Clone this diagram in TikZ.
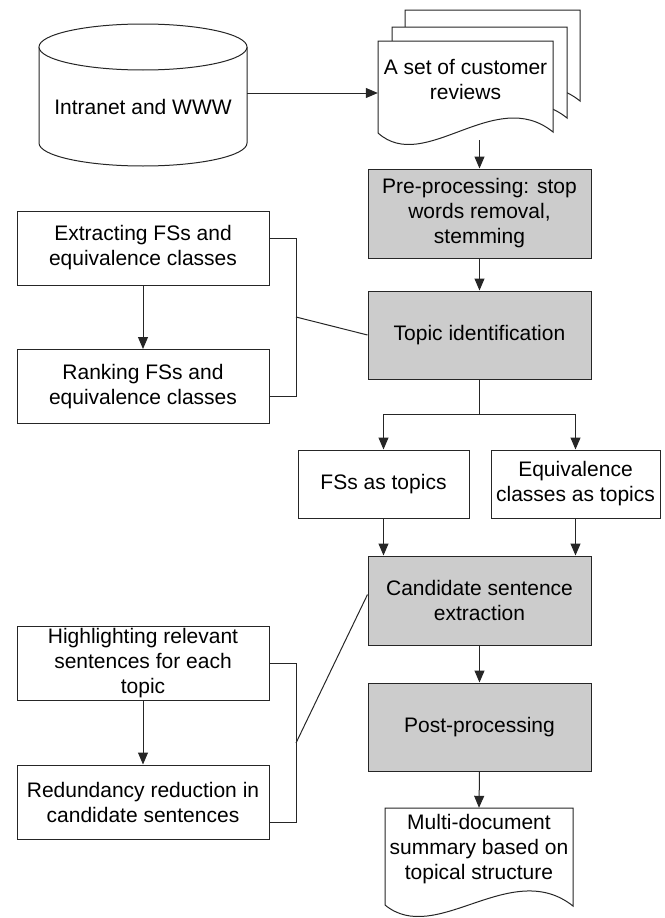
\documentclass[tikz,border=0pt]{standalone}
\usepackage{fontspec}
\setmainfont{Liberation Sans}
\usetikzlibrary{arrows.meta}
\begin{document}
\begin{tikzpicture}[x=1pt,y=-1pt,
  every node/.style={font=\fontsize{21}{25}\selectfont, align=center, inner sep=0pt},
  link/.style={draw=black!85, line width=1pt},
  arr/.style={link, -{Triangle[length=12pt,width=10pt]}},
  box/.style={link, fill=white, minimum width=252pt, minimum height=74pt},
  proc/.style={link, fill=gray!40, minimum width=223pt, minimum height=88pt},
  topicbox/.style={link, fill=white, minimum height=68pt},
  ]
\useasboundingbox (0,0) rectangle (664,918);

% data source cylinder
\draw[link, fill=white] (39,47) -- (39,143)
  arc[start angle=180, end angle=360, x radius=104pt, y radius=23pt] -- (247,47);
\draw[link, fill=white] (143,47) ellipse [x radius=104pt, y radius=23pt];
\node[minimum width=208pt, minimum height=166pt] (db) at (143,107) {Intranet and WWW};

% stack of review documents
\foreach \dx/\dy in {27/-31, 14/-14, 0/0} {
  \begin{scope}[shift={(\dx,\dy)}]
    \draw[link, fill=white] (378,41) -- (553,41) -- (553,132)
      .. controls (495,85) and (425,175) .. (378,133) -- cycle;
  \end{scope}
}
\node[minimum width=175pt, minimum height=78pt] (docs) at (465.5,80) {A set of customer\\reviews};
\coordinate (docsout) at (479.5,140);

% main pipeline
\node[proc, minimum height=89pt] (pre) at (479.5,213.5) {Pre-processing: stop\\words removal,\\stemming};
\node[proc] (topic) at (479.5,335) {Topic identification};
\node[topicbox, minimum width=171pt] (fs) at (383.5,484) {FSs as topics};
\node[topicbox, minimum width=169pt] (eq) at (575.5,484) {Equivalence\\classes as topics};
\node[proc, minimum height=89pt] (cand) at (479.5,600.5) {Candidate sentence\\extraction};
\node[proc] (post) at (479.5,727) {Post-processing};

% summary document
\draw[link, fill=white] (385,808) -- (573,808) -- (573,906)
  .. controls (511,857) and (436,947) .. (385,905) -- cycle;
\node[minimum width=188pt, minimum height=82pt] (sum) at (479,849) {Multi-document\\summary based on\\topical structure};

% side steps
\node[box] (ext) at (143,248) {Extracting FSs and\\equivalence classes};
\node[box] (rank) at (143,386.5) {Ranking FSs and\\equivalence classes};
\node[box] (high) at (143,663) {Highlighting relevant\\sentences for each\\topic};
\node[box] (red) at (143,802) {Redundancy reduction in\\candidate sentences};

% connectors
\draw[arr] ([yshift=14pt]db.east) -- ([yshift=14pt]db.east -| docs.west);
\draw[arr] (docsout) -- (pre.north);
\draw[arr] (pre.south) -- (topic.north);
\draw[arr] (topic.south) -- ++(0,35) -| (fs.north);
\draw[arr] (topic.south) -- ++(0,35) -| (eq.north);
\draw[arr] (fs.south) -- (fs.south |- cand.north);
\draw[arr] (eq.south) -- (eq.south |- cand.north);
\draw[arr] (cand.south) -- (post.north);
\draw[arr] (post.south) -- (sum.north);

\draw[arr] (ext.south) -- (rank.north);
\draw[arr] (high.south) -- (red.north);

% brackets joining the side steps to their pipeline stage
\draw[link] ([yshift=10pt]ext.east) -- ++(27,0) |- ([yshift=-9.5pt]rank.east);
\coordinate (b1) at (296,317);
\draw[link] (b1) -- (topic.west);
\draw[link] (high.east) -- ++(27,0) |- ([yshift=-20pt]red.east);
\coordinate (b2) at (296,743);
\draw[link] (b2) -- ([yshift=6pt]cand.west);
\end{tikzpicture}
\end{document}
